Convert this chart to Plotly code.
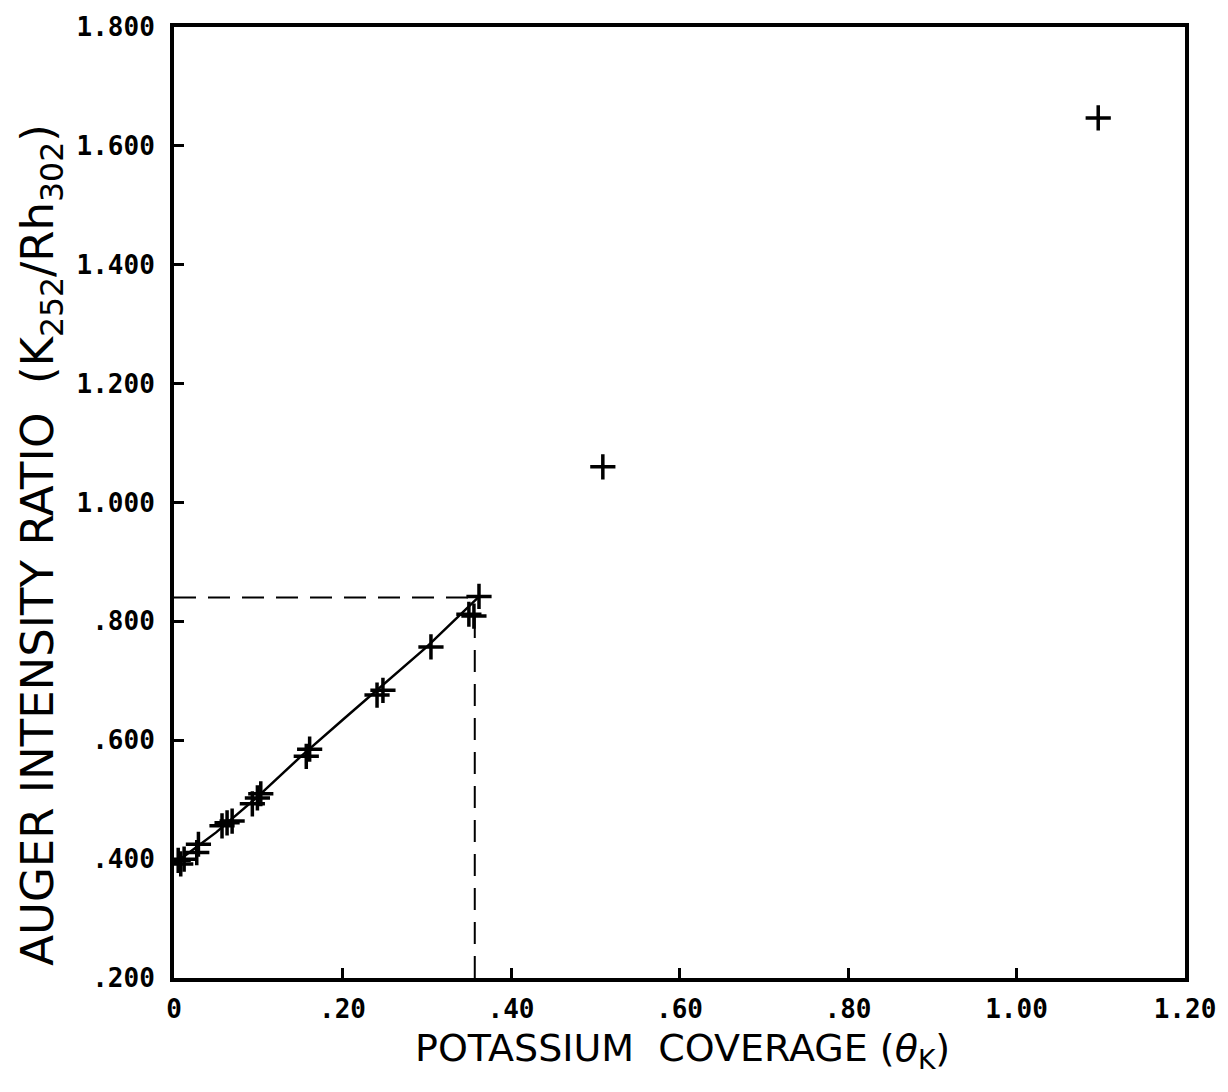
import plotly.graph_objects as go

# Measured data points (theta_K, Auger intensity ratio)
coverage = [0.005, 0.008, 0.012, 0.027, 0.029, 0.057, 0.063, 0.069, 0.093, 0.099,
            0.103, 0.157, 0.161, 0.241, 0.248, 0.305, 0.350, 0.356, 0.362, 0.509, 1.097]
ratio = [0.398, 0.392, 0.400, 0.411, 0.425, 0.456, 0.461, 0.464, 0.493, 0.503,
         0.510, 0.573, 0.585, 0.676, 0.684, 0.757, 0.812, 0.809, 0.842, 1.060, 1.647]

# Fitted curve through the low-coverage data
fit_x = [0.0, 0.05, 0.10, 0.15, 0.20, 0.25, 0.30, 0.363]
fit_y = [0.392, 0.445, 0.506, 0.572, 0.634, 0.695, 0.757, 0.843]

# Dashed guide lines marking saturation of the first layer
guide_h_x = [0.0, 0.363]
guide_h_y = [0.840, 0.840]
guide_v_x = [0.357, 0.357]
guide_v_y = [0.200, 0.815]

x_ticks = [0, 0.2, 0.4, 0.6, 0.8, 1.0, 1.2]
x_labels = ["0", ".20", ".40", ".60", ".80", "1.00", "1.20"]
y_ticks = [0.2, 0.4, 0.6, 0.8, 1.0, 1.2, 1.4, 1.6, 1.8]
y_labels = [".200", ".400", ".600", ".800", "1.000", "1.200", "1.400", "1.600", "1.800"]

fig = go.Figure()
fig.add_trace(go.Scatter(x=guide_h_x, y=guide_h_y, mode="lines",
                         line=dict(color="black", width=2, dash="22px,12px"), hoverinfo="skip"))
fig.add_trace(go.Scatter(x=guide_v_x, y=guide_v_y, mode="lines",
                         line=dict(color="black", width=2, dash="22px,12px"), hoverinfo="skip"))
fig.add_trace(go.Scatter(x=fit_x, y=fit_y, mode="lines",
                         line=dict(color="black", width=2.5)))
fig.add_trace(go.Scatter(x=coverage, y=ratio, mode="markers",
                         marker=dict(symbol="cross-thin", size=18,
                                     line=dict(color="black", width=3.5))))

tickfont = dict(family="DejaVu Sans Mono", size=26, color="black", weight="bold")
fig.update_xaxes(range=[0, 1.2], tickvals=x_ticks, ticktext=x_labels,
                 ticks="inside", ticklen=10, tickwidth=3, tickcolor="black",
                 showline=True, linewidth=4, linecolor="black", mirror=True,
                 showgrid=False, zeroline=False, tickfont=tickfont,
                 ticklabelstandoff=5)
fig.update_yaxes(range=[0.2, 1.8], tickvals=y_ticks, ticktext=y_labels,
                 ticks="inside", ticklen=10, tickwidth=3, tickcolor="black",
                 showline=True, linewidth=4, linecolor="black", mirror=True,
                 showgrid=False, zeroline=False, tickfont=tickfont,
                 ticklabelstandoff=10)

fig.add_annotation(text="AUGER INTENSITY RATIO  (K<sub>252</sub>/Rh<sub>302</sub>)",
                   xref="paper", yref="paper", x=-0.132, y=0.455, textangle=-90,
                   showarrow=False, xanchor="center", yanchor="middle",
                   font=dict(family="DejaVu Sans", size=45, color="black"))
fig.add_annotation(text="POTASSIUM  COVERAGE (<i>θ</i><sub>K</sub>)",
                   xref="paper", yref="paper", x=0.503, y=-0.076,
                   showarrow=False, xanchor="center", yanchor="middle",
                   font=dict(family="DejaVu Sans", size=38, color="black"))

fig.update_layout(width=1228, height=1092, showlegend=False,
                  margin=dict(l=174, r=40, t=22, b=114),
                  paper_bgcolor="white", plot_bgcolor="white")
fig.write_html("out.html")
